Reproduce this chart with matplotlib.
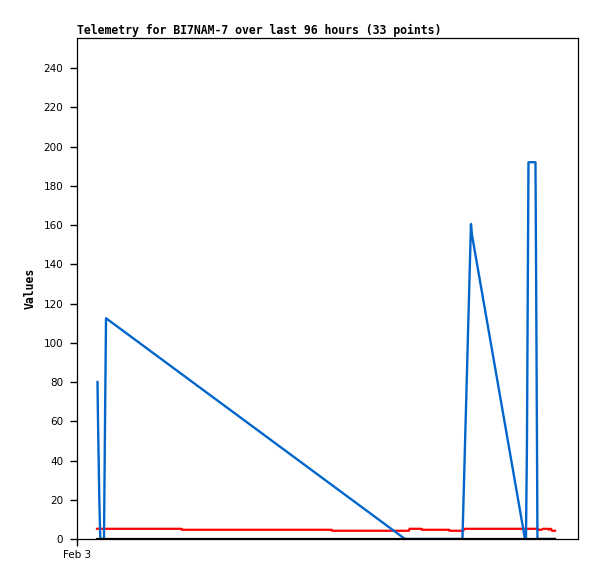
import matplotlib
matplotlib.use("Agg")
import matplotlib.pyplot as plt

# hours since start of window
blue_t = [3.93, 4.02, 4.27, 4.46, 5.17, 5.36, 5.56, 62.85, 73.86, 75.49, 75.68,
          85.84, 86.03, 86.22, 86.41, 86.51, 87.85, 87.95, 88.14, 88.23, 91.59]
blue_v = [80, 61, 21, 0, 0, 57, 112.5, 0, 0, 160.5, 155,
          0, 0, 49, 145, 192, 192, 145, 49, 0, 0]

red_t = [3.83, 20.02, 20.12, 48.76, 48.86, 63.61, 63.71, 66.01, 66.10, 71.28, 71.38,
         73.96, 74.34, 88.33, 88.43, 89.0, 89.29, 90.25, 90.44, 90.63, 90.82, 91.01, 91.59]
red_v = [5.2, 5.2, 4.7, 4.7, 4.2, 4.2, 5.2, 5.2, 4.7, 4.7, 4.2,
         4.2, 5.2, 5.2, 4.7, 4.7, 5.2, 5.2, 4.7, 5.2, 5.2, 4.2, 4.2]

black_t = [3.83, 91.59]
black_v = [0, 0]

title = "Telemetry for BI7NAM-7 over last 96 hours (33 points)"
y_ticks = [0, 20, 40, 60, 80, 100, 120, 140, 160, 180, 200, 220, 240]
x_tick_pos = [0]
x_tick_labels = ["Feb 3"]

fig = plt.figure(figsize=(5.97, 5.79), dpi=100)
ax = fig.add_axes([77/597, 1-539/579, 501/597, 501/579])

ax.plot(red_t, red_v, color="#ff0000", lw=1.6, zorder=2)
ax.plot(blue_t, blue_v, color="#0066cc", lw=1.7, zorder=3)
ax.plot(black_t, black_v, color="#000000", lw=1.6, zorder=4)

ax.set_xlim(0, 96)
ax.set_ylim(0, 255.3)
ax.set_yticks(y_ticks)
ax.set_yticklabels([str(v) for v in y_ticks], fontsize=7.5, family="DejaVu Sans")
ax.set_xticks(x_tick_pos)
ax.set_xticklabels(x_tick_labels, fontsize=7.5, family="DejaVu Sans")
ax.tick_params(axis="y", direction="out", length=5, width=1, pad=5)
ax.tick_params(axis="x", direction="out", length=5, width=1, pad=3)
for s in ax.spines.values():
    s.set_linewidth(0.9)

ax.set_title(title, loc="left", fontsize=8.3, family="DejaVu Sans Mono",
             fontweight="bold", pad=3)
ax.set_ylabel("Values", fontsize=8.3, family="DejaVu Sans Mono", fontweight="bold",
              labelpad=5)

fig.savefig("out.png", dpi=100)
